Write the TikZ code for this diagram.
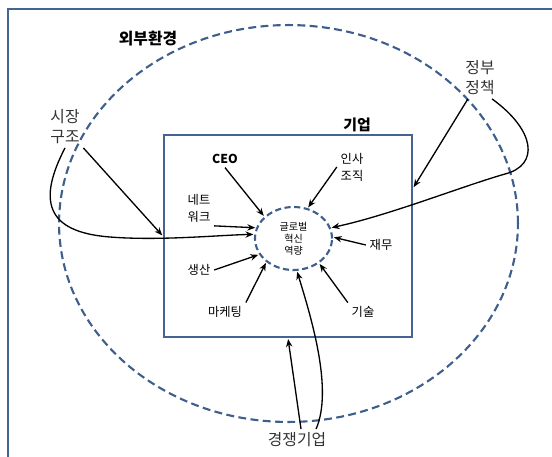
\documentclass[tikz,border=0pt]{standalone}
\usepackage{fontspec}
\setmainfont{Noto Sans CJK KR}
\usetikzlibrary{arrows.meta,shapes.geometric}
\definecolor{frameblue}{RGB}{70,100,145}
\definecolor{dashblue}{RGB}{62,94,140}
\tikzset{
    lbl/.style={inner sep=2pt, align=center, font=\fontsize{7}{9.6}\selectfont},
    outlbl/.style={inner sep=2pt, align=center, text=black!80, font=\fontsize{9}{11.3}\selectfont},
    arr/.style={-{Stealth[length=4.5pt,width=3.6pt]}, line width=0.75pt, shorten >=0.5pt},
}
\begin{document}
\begin{tikzpicture}[x=0.02cm, y=-0.02cm]
    \useasboundingbox (0,0) rectangle (552,457);
    % Draw the frame
    \draw[frameblue, line width=1.4pt] (8,457) -- (8,9) -- (552,9);
    % Draw the environment and the firm
    \node[ellipse, draw=dashblue, dash pattern=on 4.5pt off 2.5pt, line width=1.2pt,
          minimum width=9.18cm, minimum height=7.94cm, inner sep=0] (env) at (288.5,223.5) {};
    \node[draw=frameblue, line width=1.4pt, minimum width=4.96cm, minimum height=4.04cm,
          inner sep=0] (firm) at (288,236) {};
    \node[ellipse, draw=dashblue, dash pattern=on 3.5pt off 2pt, line width=1.2pt,
          minimum width=1.54cm, minimum height=1.26cm, inner sep=0, align=center,
          font=\fontsize{5.7}{6.8}\selectfont] (core) at (293.5,238.5) {글로벌\\혁신\\역량};
    % Titles
    \node[font=\bfseries\fontsize{9}{11}\selectfont] (envlbl) at (148,39) {외부환경};
    \node[font=\bfseries\fontsize{8.5}{10}\selectfont] (firmlbl) at (357,125) {기업};
    % Outer factors
    \node[outlbl] (market) at (65,127) {시장\\구조};
    \node[outlbl] (gov) at (480,78) {정부\\정책};
    \node[outlbl] (rival) at (297,440) {경쟁기업};
    % Inner factors
    \node[lbl, font=\bfseries\fontsize{7}{9}\selectfont] (ceo) at (225,159) {CEO};
    \node[lbl] (hr) at (352,167) {인사\\조직};
    \node[lbl] (net) at (199,208) {네트\\워크};
    \node[lbl] (fin) at (381,245) {재무};
    \node[lbl] (prod) at (199,270) {생산};
    \node[lbl] (mkt) at (225,312) {마케팅};
    \node[lbl] (tech) at (363,312) {기술};
    % Draw the inner arrows
    \foreach \src/\ang in {ceo.south/143, hr.west/65, net.south east/164, fin.west/2,
                           prod.east/205, mkt.north east/221, tech.north west/316} {
            \draw[arr] (\src) -- (core.\ang);
        }
    % Market structure
    \draw[arr] (market.south east) -- (firm.west);
    \draw[arr] (market.south) .. controls (38,200) and (45,232) .. (110,237)
        .. controls (160,241) and (220,235) .. (core.174);
    % Government policy
    \draw[arr] (gov.-120) -- (firm.21.6);
    \draw[arr] (gov.-60) .. controls (535,130) and (540,165) .. (505,174)
        .. controls (460,187) and (390,215) .. (core.16);
    % Competitors
    \draw[arr] (rival.70) -- (firm.south);
    \draw[arr] (rival.30) .. controls (333,390) and (312,320) .. (core.276);
\end{tikzpicture}
\end{document}
